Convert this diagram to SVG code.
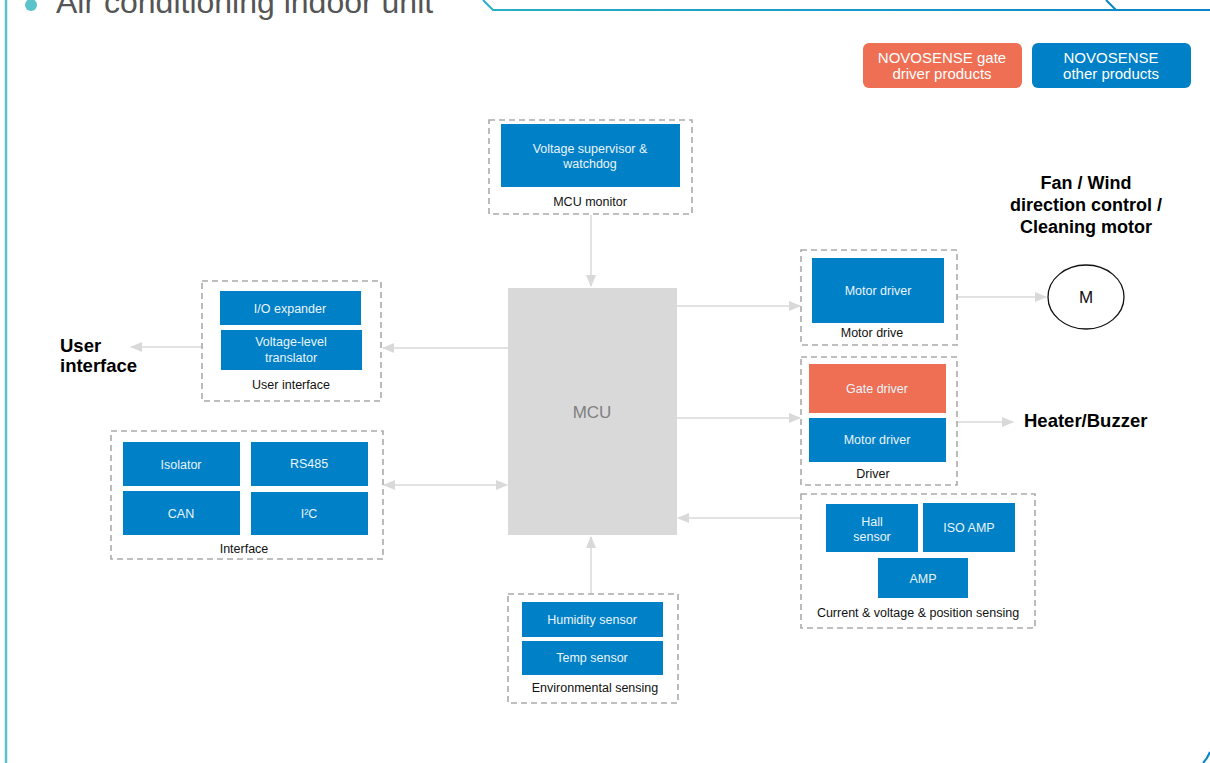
<svg xmlns="http://www.w3.org/2000/svg" width="1210" height="763" viewBox="0 0 1210 763">
<style>
text{font-family:"Liberation Sans",Arial,sans-serif}
.grp{fill:none;stroke:#ABABAB;stroke-width:1.6;stroke-dasharray:6 4}
.blue{fill:#0080C6}
.orange{fill:#EE6F53}
.bt{fill:#EAF4FB;font-size:12.5px;text-anchor:middle}
.lbl{fill:#111;font-size:12.5px;text-anchor:middle}
.big{fill:#000;font-size:18.5px;font-weight:bold}
.lg{fill:#fff;font-size:15px;text-anchor:middle}
.conn{stroke:#D9D9D9;stroke-width:1.5;fill:none}
</style>
<defs>
<linearGradient id="tg" x1="0" y1="0" x2="1" y2="0">
<stop offset="0" stop-color="#26B0C8"/>
<stop offset="1" stop-color="#0A84C8"/>
</linearGradient>
<marker id="ah" markerWidth="12" markerHeight="10" refX="11" refY="5" orient="auto" markerUnits="userSpaceOnUse">
<path d="M0,0 L12,5 L0,10 Z" fill="#D9D9D9"/>
</marker>
<marker id="as" markerWidth="12" markerHeight="10" refX="1" refY="5" orient="auto" markerUnits="userSpaceOnUse">
<path d="M12,0 L0,5 L12,10 Z" fill="#D9D9D9"/>
</marker>
</defs>
<rect width="1210" height="763" fill="#fff"/>

<!-- frame -->
<g id="frame">
<line x1="6" y1="0" x2="6" y2="763" stroke="#5BC3C9" stroke-width="2.5"/>
<path d="M483,0 L493,10 L1210,10" fill="none" stroke="url(#tg)" stroke-width="2"/>
<path d="M1106,0 L1116,10" fill="none" stroke="#0A84C8" stroke-width="2"/>
<path d="M1203,763 Q1207,759 1210,752" fill="none" stroke="#0A84C8" stroke-width="2"/>
<circle cx="31" cy="5" r="6" fill="#5BC3C9"/>
<text x="56" y="13" font-size="32" fill="#555">Air conditioning indoor unit</text>
</g>

<!-- legend -->
<g id="legend">
<rect x="863" y="43" width="159" height="45" rx="6" class="orange"/>
<text class="lg" x="942" y="63">NOVOSENSE gate</text>
<text class="lg" x="942" y="79">driver products</text>
<rect x="1032" y="43" width="159" height="45" rx="6" class="blue"/>
<text class="lg" x="1111" y="63">NOVOSENSE</text>
<text class="lg" x="1111" y="79">other products</text>
</g>

<!-- connectors -->
<g id="connectors">
<line class="conn" x1="591" y1="215" x2="591" y2="286" marker-end="url(#ah)"/>
<line class="conn" x1="508" y1="348" x2="383" y2="348" marker-end="url(#ah)"/>
<line class="conn" x1="202" y1="347" x2="131" y2="347" marker-end="url(#ah)"/>
<line class="conn" x1="384" y1="485" x2="507" y2="485" marker-start="url(#as)" marker-end="url(#ah)"/>
<line class="conn" x1="677" y1="306" x2="800" y2="306" marker-end="url(#ah)"/>
<line class="conn" x1="957" y1="297" x2="1046" y2="297" marker-end="url(#ah)"/>
<line class="conn" x1="677" y1="418" x2="800" y2="418" marker-end="url(#ah)"/>
<line class="conn" x1="957" y1="422" x2="1013" y2="422" marker-end="url(#ah)"/>
<line class="conn" x1="801" y1="518" x2="678" y2="518" marker-end="url(#ah)"/>
<line class="conn" x1="591" y1="594" x2="591" y2="537" marker-end="url(#ah)"/>
</g>

<!-- MCU -->
<g id="mcu">
<rect x="508" y="288" width="169" height="247" fill="#D9D9D9"/>
<text x="592" y="418" font-size="17" fill="#808080" text-anchor="middle">MCU</text>
</g>

<!-- MCU monitor -->
<g id="mcu-monitor">
<rect class="grp" x="489" y="120" width="203" height="94"/>
<rect class="blue" x="501" y="124" width="179" height="63"/>
<text class="bt" x="590" y="153">Voltage supervisor &amp;</text>
<text class="bt" x="590" y="168">watchdog</text>
<text class="lbl" x="590" y="206">MCU monitor</text>
</g>

<!-- User interface -->
<g id="user-interface">
<rect class="grp" x="202" y="281" width="179" height="120"/>
<rect class="blue" x="220" y="291" width="141" height="34"/>
<text class="bt" x="290" y="313">I/O expander</text>
<rect class="blue" x="221" y="330" width="141" height="40"/>
<text class="bt" x="291" y="346">Voltage-level</text>
<text class="bt" x="291" y="362">translator</text>
<text class="lbl" x="291" y="389">User interface</text>
</g>
<g id="user-interface-label">
<text class="big" x="60" y="352">User</text>
<text class="big" x="60" y="372">interface</text>
</g>

<!-- Interface -->
<g id="interface">
<rect class="grp" x="111" y="431" width="272" height="128"/>
<rect class="blue" x="123" y="442" width="117" height="44"/>
<text class="bt" x="181" y="469">Isolator</text>
<rect class="blue" x="251" y="442" width="117" height="44"/>
<text class="bt" x="309" y="468">RS485</text>
<rect class="blue" x="123" y="491" width="117" height="44"/>
<text class="bt" x="181" y="518">CAN</text>
<rect class="blue" x="251" y="492" width="117" height="43"/>
<text class="bt" x="309" y="518">I²C</text>
<text class="lbl" x="244" y="553">Interface</text>
</g>

<!-- Motor drive -->
<g id="motor-drive">
<rect class="grp" x="801" y="250" width="156" height="95"/>
<rect class="blue" x="812" y="258" width="132" height="65"/>
<text class="bt" x="878" y="295">Motor driver</text>
<text class="lbl" x="872" y="337">Motor drive</text>
</g>

<!-- Motor -->
<g id="motor">
<ellipse cx="1086" cy="297" rx="38" ry="32" fill="#fff" stroke="#111" stroke-width="1.3"/>
<text x="1086" y="303" font-size="17" fill="#111" text-anchor="middle">M</text>
</g>
<g id="motor-label">
<text x="1086" y="189" font-size="18" font-weight="bold" fill="#000" text-anchor="middle">Fan / Wind</text>
<text x="1086" y="211" font-size="18" font-weight="bold" fill="#000" text-anchor="middle">direction control /</text>
<text x="1086" y="233" font-size="18" font-weight="bold" fill="#000" text-anchor="middle">Cleaning motor</text>
</g>

<!-- Driver -->
<g id="driver">
<rect class="grp" x="801" y="357" width="156" height="128"/>
<rect class="orange" x="809" y="364" width="137" height="49"/>
<text class="bt" x="877" y="393">Gate driver</text>
<rect class="blue" x="809" y="418" width="137" height="44"/>
<text class="bt" x="877" y="444">Motor driver</text>
<text class="lbl" x="873" y="478">Driver</text>
</g>
<g id="heater">
<text class="big" x="1024" y="427">Heater/Buzzer</text>
</g>

<!-- Sensing -->
<g id="sensing">
<rect class="grp" x="801" y="494" width="234" height="134"/>
<rect class="blue" x="826" y="504" width="92" height="48"/>
<text class="bt" x="872" y="526">Hall</text>
<text class="bt" x="872" y="541">sensor</text>
<rect class="blue" x="923" y="503" width="92" height="49"/>
<text class="bt" x="969" y="532">ISO AMP</text>
<rect class="blue" x="878" y="558" width="90" height="40"/>
<text class="bt" x="923" y="583">AMP</text>
<text class="lbl" x="918" y="617">Current &amp; voltage &amp; position sensing</text>
</g>

<!-- Environmental sensing -->
<g id="environmental">
<rect class="grp" x="508" y="594" width="170" height="109"/>
<rect class="blue" x="522" y="602" width="141" height="35"/>
<text class="bt" x="592" y="624">Humidity sensor</text>
<rect class="blue" x="522" y="641" width="141" height="34"/>
<text class="bt" x="592" y="662">Temp sensor</text>
<text class="lbl" x="595" y="692">Environmental sensing</text>
</g>
</svg>
